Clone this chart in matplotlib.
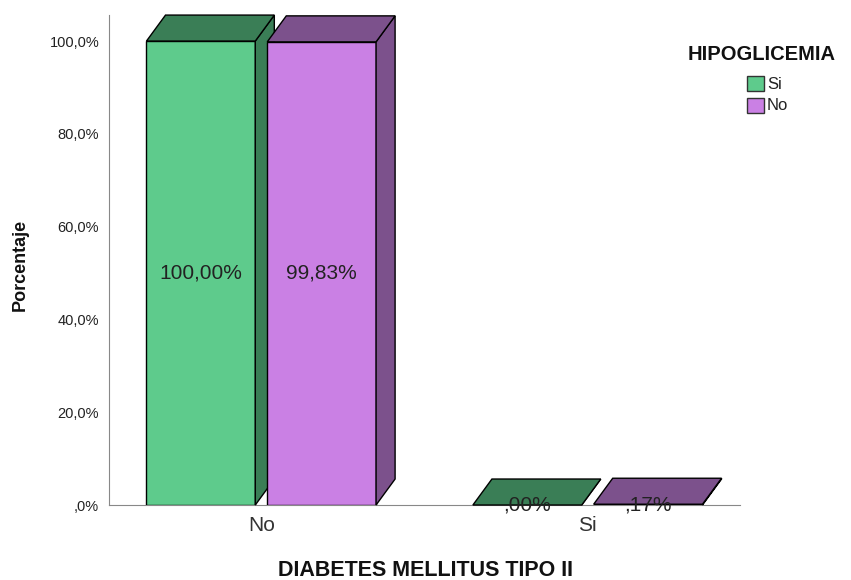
import matplotlib.pyplot as plt
from matplotlib.patches import Polygon, Rectangle

plt.rcParams['font.family'] = ['Liberation Sans', 'DejaVu Sans']

# Datos: porcentaje de HIPOGLICEMIA dentro de cada grupo de DIABETES MELLITUS TIPO II
categorias = ['No', 'Si']
series = ['Si', 'No']
valores_si = [100.00, 0.00]
valores_no = [99.83, 0.17]
etiquetas_si = ['100,00%', ',00%']
etiquetas_no = ['99,83%', ',17%']
yticks = [0, 20, 40, 60, 80, 100]
ytick_labels = [',0%', '20,0%', '40,0%', '60,0%', '80,0%', '100,0%']

colores = {'Si': ('#5ecb8c', '#3a7e56'), 'No': ('#ca80e4', '#7c518c')}

ANCHO = 1.0
SEP = 0.555
DX, DY = 0.175, 5.6   # profundidad del efecto 3D (en unidades de datos)


def barra_3d(ax, x, h, frente, oscuro, etiqueta):
    ax.bar(x, h, width=ANCHO, color=frente, edgecolor='black', linewidth=1, zorder=2)
    x0, x1 = x - ANCHO / 2, x + ANCHO / 2
    lado = [(x1, 0), (x1 + DX, DY), (x1 + DX, h + DY), (x1, h)]
    techo = [(x0, h), (x0 + DX, h + DY), (x1 + DX, h + DY), (x1, h)]
    for verts in (lado, techo):
        ax.add_patch(Polygon(verts, closed=True, facecolor=oscuro, edgecolor='black',
                             linewidth=1, zorder=2, clip_on=False))
    ax.text(x, h / 2, etiqueta, ha='center', va='center', fontsize=15,
            color='#222222', zorder=5)


fig = plt.figure(figsize=(8.51, 5.80), dpi=100)
ax = fig.add_axes([0.128, 0.1293, 0.7416, 0.8447])

for i, cat in enumerate(categorias):
    xc = i * 3.0
    barra_3d(ax, xc - SEP, valores_si[i], *colores['Si'], etiquetas_si[i])
    barra_3d(ax, xc + SEP, valores_no[i], *colores['No'], etiquetas_no[i])

ax.set_xlim(-1.4, 4.4)
ax.set_ylim(0, 105.6)
ax.set_xticks([0, 3.0])
ax.set_xticklabels(categorias, fontsize=15, color='#333333')
ax.set_yticks(yticks)
ax.set_yticklabels(ytick_labels, fontsize=10.5, color='#222222')
ax.tick_params(axis='both', length=0)
ax.tick_params(axis='x', pad=8)
ax.tick_params(axis='y', pad=7)

for s in ('top', 'right'):
    ax.spines[s].set_visible(False)
for s in ('left', 'bottom'):
    ax.spines[s].set_color('#888888')
    ax.spines[s].set_linewidth(0.8)
ax.spines['bottom'].set_zorder(1)

fig.text(0.5, 0.016, 'DIABETES MELLITUS TIPO II', ha='center', va='center',
         fontsize=15.5, fontweight='bold', color='#111111')
fig.text(0.024, 0.543, 'Porcentaje', ha='center', va='center', rotation=90,
         fontsize=13, fontweight='bold', color='#111111')

# Leyenda dibujada a mano (coordenadas de figura)
W, H = 851, 580
fig.text(762 / W, 1 - 55 / H, 'HIPOGLICEMIA', ha='center', va='center',
         fontsize=14.5, fontweight='bold', color='#111111')
for k, s in enumerate(series):
    ytop = 76 + k * 22
    fig.add_artist(Rectangle((747 / W, 1 - (ytop + 15) / H), 17 / W, 15 / H,
                             transform=fig.transFigure, facecolor=colores[s][0],
                             edgecolor='#333333', linewidth=1))
    fig.text(767 / W, 1 - (ytop + 8) / H, s, ha='left', va='center',
             fontsize=12, color='#222222')

fig.savefig('out.png', dpi=100)
